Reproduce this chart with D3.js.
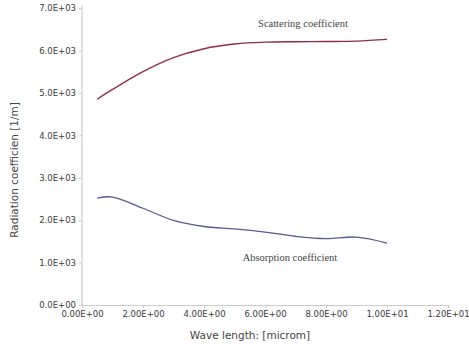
<!DOCTYPE html>
<html><head><meta charset="utf-8">
<script src="https://cdn.jsdelivr.net/npm/d3@7"></script>
<style>body{margin:0;background:#fff}svg{display:block}</style>
</head><body>
<svg id="c" width="469" height="354"></svg>
<script>
const wavelength = [0.5, 1, 2, 3, 4, 5, 6, 7, 8, 9, 10];
const scattering = [4850, 5080, 5500, 5830, 6040, 6150, 6195, 6205, 6210, 6220, 6260];
const absorption = [2520, 2545, 2280, 1995, 1850, 1795, 1720, 1620, 1565, 1600, 1460];
const xTicks = [0, 2, 4, 6, 8, 10, 12];
const xTickLabels = ["0.00E+00","2.00E+00","4.00E+00","6.00E+00","8.00E+00","1.00E+01","1.20E+01"];
const yTicks = [0, 1000, 2000, 3000, 4000, 5000, 6000, 7000];
const yTickLabels = ["0.0E+00","1.0E+03","2.0E+03","3.0E+03","4.0E+03","5.0E+03","6.0E+03","7.0E+03"];

const svg = d3.select("#c");
const x = d3.scaleLinear().domain([0, 12]).range([82, 448]);
const y = d3.scaleLinear().domain([0, 7000]).range([305, 8]);

const xAxis = d3.axisBottom(x).tickValues(xTicks).tickSize(3).tickPadding(3)
  .tickFormat((d, i) => xTickLabels[i]);
const yAxis = d3.axisLeft(y).tickValues(yTicks).tickSize(3).tickPadding(3)
  .tickFormat((d, i) => yTickLabels[i]);

const gx = svg.append("g").attr("transform", "translate(0,305)").call(xAxis);
const gy = svg.append("g").attr("transform", "translate(82,0)").call(yAxis);
[gx, gy].forEach(g => {
  g.select(".domain").attr("stroke", "#cccccc").attr("stroke-width", 1.2);
  g.selectAll(".tick line").attr("stroke", "#cccccc");
  g.selectAll(".tick text").attr("fill", "#3a3a3a").attr("font-family", "DejaVu Sans, sans-serif").attr("font-size", 8.5);
});
gy.select(".domain").attr("d", "M0,305V5");

const line = d3.line().x((d, i) => x(wavelength[i])).y(d => y(d)).curve(d3.curveCatmullRom);
svg.append("path").datum(scattering).attr("d", line).attr("fill", "none")
  .attr("stroke", "#8e2c4c").attr("stroke-width", 1.4);
svg.append("path").datum(absorption).attr("d", line).attr("fill", "none")
  .attr("stroke", "#585892").attr("stroke-width", 1.3);

svg.append("text").attr("x", 303).attr("y", 27).attr("text-anchor", "middle")
  .attr("font-family", "Liberation Serif, serif").attr("font-size", 10.5).attr("fill", "#444")
  .text("Scattering coefficient");
svg.append("text").attr("x", 290).attr("y", 261).attr("text-anchor", "middle")
  .attr("font-family", "Liberation Serif, serif").attr("font-size", 10.5).attr("fill", "#444")
  .text("Absorption coefficient");

svg.append("text").attr("x", 250).attr("y", 339).attr("text-anchor", "middle")
  .attr("font-family", "DejaVu Sans, sans-serif").attr("font-size", 10.5).attr("fill", "#444")
  .text("Wave length: [microm]");
svg.append("text").attr("transform", "translate(18,170) rotate(-90)").attr("text-anchor", "middle")
  .attr("font-family", "DejaVu Sans, sans-serif").attr("font-size", 10.5).attr("fill", "#444")
  .text("Radiation coefficien [1/m]");
</script>
</body></html>
